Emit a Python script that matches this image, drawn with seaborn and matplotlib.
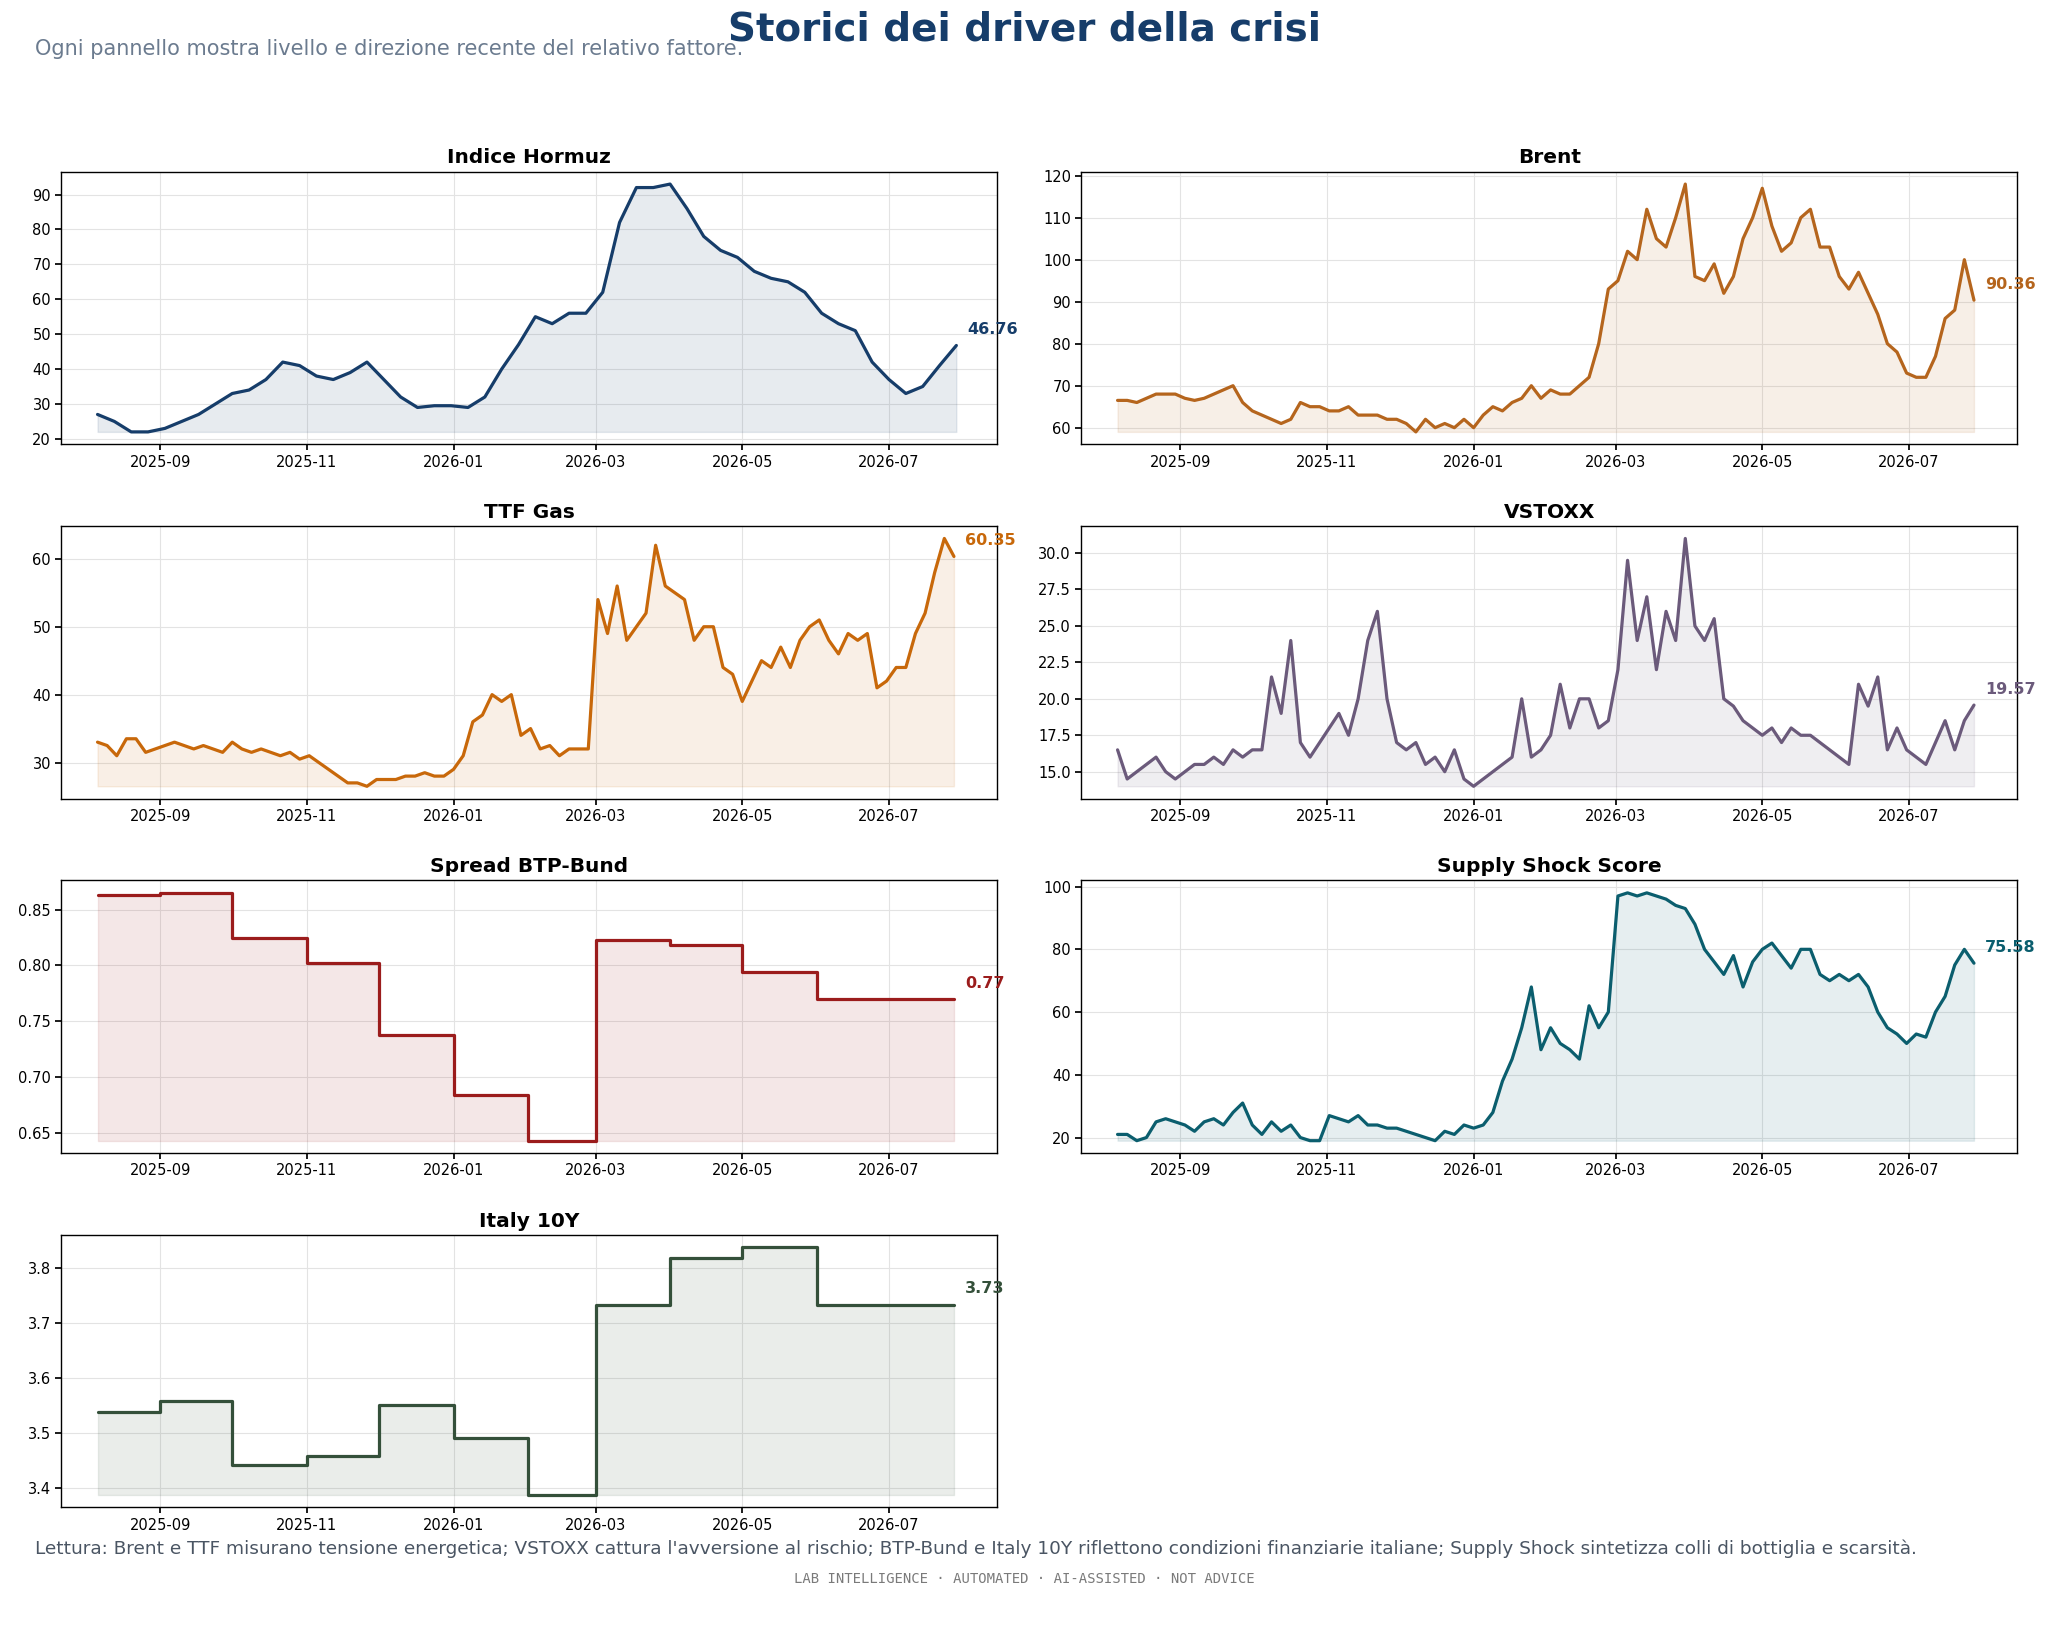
import numpy as np, pandas as pd, matplotlib
matplotlib.use("Agg")
import matplotlib.pyplot as plt, matplotlib.dates as mdates
from matplotlib.ticker import MultipleLocator
import seaborn as sns

sns.set_theme(style="whitegrid")
plt.rcParams['font.family'] = ['DejaVu Sans']

hormuz = [27,25,22,22,23,25,27,30,33,34,37,42,41,38,37,39,42,37,32,29,29.5,29.5,29,32,40,47,55,53,56,56,
          62,82,92,92,93,86,78,74,72,68,66,65,62,56,53,51,42,37,33,35,41,46.76]
brent = [66.5,66.5,66,67,68,68,68, 67,66.5,67,68,69,70,66,64, 63,62,61,62,66,65,65, 64,64,65,63,63,63,62,62,
         61,59,62,60,61,60,62,60, 63,65,64,66,67,70,67, 69,68,68,70,72,80,93, 95,102,100,112,105,103,110,118,
         96,95,99,92,96,105,110, 117,108,102,104,110,112,103,103, 96,93,97,92,87,80,78, 73,72,72,77,86,88,100,90.36]
ttf = [33,32.5,31,33.5,33.5,31.5,32, 32.5,33,32.5,32,32.5,32,31.5,33, 32,31.5,32,31.5,31,31.5,30.5,
       31,30,29,28,27,27,26.5,27.5, 27.5,27.5,28,28,28.5,28,28,29, 31,36,37,40,39,40,34, 35,32,32.5,31,32,32,32,
       54,49,56,48,50,52,62,56, 55,54,48,50,50,44,43, 39,42,45,44,47,44,48,50, 51,48,46,49,48,49,41,
       42,44,44,49,52,58,63,60.35]
vstoxx = [16.5,14.5,15,15.5,16,15,14.5, 15,15.5,15.5,16,15.5,16.5,16,16.5, 16.5,21.5,19,24,17,16,17,
          18,19,17.5,20,24,26,20,17, 16.5,17,15.5,16,15,16.5,14.5,14, 14.5,15,15.5,16,20,16,16.5,
          17.5,21,18,20,20,18,18.5, 22,29.5,24,27,22,26,24,31, 25,24,25.5,20,19.5,18.5,18,
          17.5,18,17,18,17.5,17.5,17,16.5, 16,15.5,21,19.5,21.5,16.5,18, 16.5,16,15.5,17,18.5,16.5,18.5,19.57]
supply = [21,21,19,20,25,26,25, 24,22,25,26,24,28,31,24, 21,25,22,24,20,19,19, 27,26,25,27,24,24,23,23,
          22,21,20,19,22,21,24,23, 24,28,38,45,55,68,48, 55,50,48,45,62,55,60, 97,98,97,98,97,96,94,93,
          88,80,76,72,78,68,76, 80,82,78,74,80,80,72,70, 72,70,72,68,60,55,53, 50,53,52,60,65,75,80,75.58]
step_dates = ["2025-08-06","2025-09-01","2025-10-01","2025-11-01","2025-12-01","2026-01-01","2026-02-01",
              "2026-03-01","2026-04-01","2026-05-01","2026-06-01","2026-07-01","2026-07-28"]
bund = [0.863,0.865,0.825,0.802,0.738,0.684,0.643,0.823,0.818,0.794,0.770,0.770,0.770]
italy = [3.537,3.558,3.442,3.458,3.551,3.491,3.387,3.733,3.817,3.837,3.733,3.733,3.733]

d_week = pd.date_range("2025-08-06", periods=len(hormuz), freq="7D")
d_4 = pd.date_range("2025-08-06", periods=len(brent), freq="4D")
d_step = pd.to_datetime(step_dates)

panels = [
    ("Indice Hormuz", d_week, hormuz, "#163d6a", None, 10),
    ("Brent", d_4, brent, "#b5651d", None, 10),
    ("TTF Gas", d_4, ttf, "#c8680a", None, 10),
    ("VSTOXX", d_4, vstoxx, "#6b5a7b", None, 2.5),
    ("Spread BTP-Bund", d_step, bund, "#9b1c1c", "steps-post", 0.05),
    ("Supply Shock Score", d_4, supply, "#0b5e6e", None, 20),
    ("Italy 10Y", d_step, italy, "#34503a", "steps-post", 0.1),
]

fig, axes = plt.subplots(4, 2, figsize=(20.48, 16.35), dpi=100)
fig.subplots_adjust(left=0.03, right=0.985, top=0.895, bottom=0.078, hspace=0.3, wspace=0.09)
for ax, (title, d, v, c, ds, step) in zip(axes.flat, panels):
    df = pd.DataFrame({"date": d, "value": v})
    sns.lineplot(data=df, x="date", y="value", ax=ax, color=c, lw=2.3, drawstyle=ds or "default")
    ax.fill_between(d, min(v), v, color=c, alpha=0.1, step="post" if ds else None)
    ax.set_title(title, fontsize=14.5, fontweight="bold", pad=6, color="black")
    ax.set_xlabel(""); ax.set_ylabel("")
    ax.yaxis.set_major_locator(MultipleLocator(step))
    ax.xaxis.set_major_locator(mdates.MonthLocator(bymonth=[1,3,5,7,9,11]))
    ax.xaxis.set_major_formatter(mdates.DateFormatter("%Y-%m"))
    ax.tick_params(labelsize=10.5, length=4, color="black", labelcolor="black", bottom=True, left=True)
    ax.set_xlim(pd.Timestamp("2025-07-22"), pd.Timestamp("2026-08-15"))
    ax.grid(color="#e3e3e3", lw=0.8)
    for s in ax.spines.values():
        s.set_color("black"); s.set_linewidth(1)
    ax.annotate(f"{v[-1]:.2f}", (d[-1], v[-1]), xytext=(8, 6), textcoords="offset points",
                color=c, fontsize=11.5, fontweight="bold", ha="left", va="bottom")
axes[3, 1].axis("off")

fig.text(0.5, 0.982, "Storici dei driver della crisi", ha="center", va="center",
         fontsize=28, fontweight="bold", color="#163d6a")
fig.text(0.017, 0.97, "Ogni pannello mostra livello e direzione recente del relativo fattore.",
         ha="left", va="center", fontsize=15, color="#6b7b8f")
fig.text(0.017, 0.053, "Lettura: Brent e TTF misurano tensione energetica; VSTOXX cattura l'avversione al rischio; "
         "BTP-Bund e Italy 10Y riflettono condizioni finanziarie italiane; Supply Shock sintetizza colli di bottiglia e scarsità.",
         ha="left", va="center", fontsize=13.3, color="#4a5563")
fig.text(0.5, 0.034, "LAB INTELLIGENCE · AUTOMATED · AI-ASSISTED · NOT ADVICE", ha="center", va="center",
         fontsize=10, color="#7a7a7a", family="DejaVu Sans Mono")
fig.savefig("out.png", dpi=100)
